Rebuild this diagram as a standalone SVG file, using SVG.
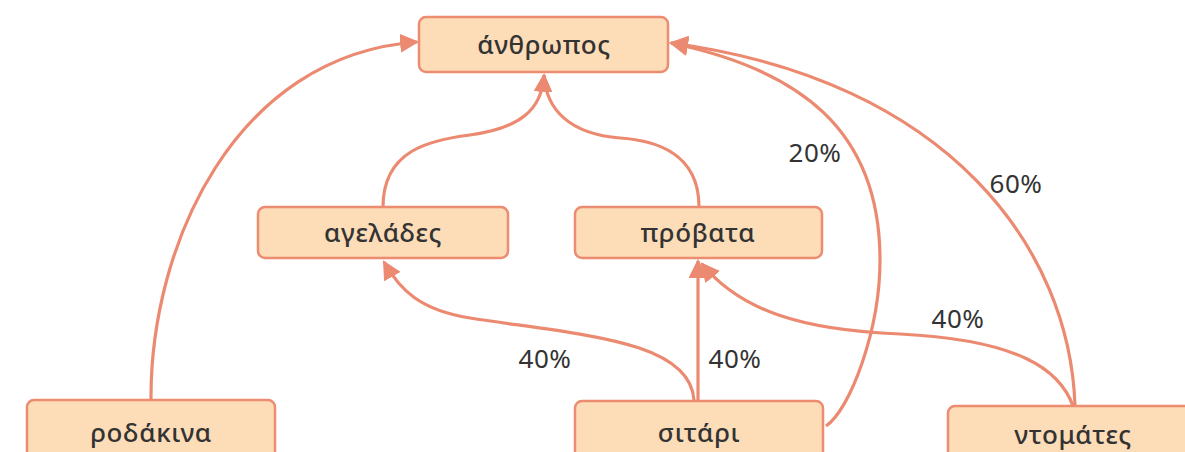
<svg xmlns="http://www.w3.org/2000/svg" width="1185" height="452" viewBox="0 0 1185 452">
<style>
.box{fill:#FDDDB8;stroke:#EC8C71;stroke-width:2.5}
.lbl{font-family:"Noto Sans","Liberation Sans",sans-serif;font-size:26px;font-weight:500;fill:#333;text-anchor:middle;letter-spacing:0.6px}
.pct{font-family:"Noto Sans","Liberation Sans",sans-serif;font-size:26px;fill:#333;text-anchor:middle;letter-spacing:0.5px}
.c{fill:none;stroke:#EB8A70;stroke-width:3.2}
</style>
<defs>
<marker id="ah" viewBox="0 0 18 18" refX="16" refY="9" markerWidth="19" markerHeight="19" markerUnits="userSpaceOnUse" orient="auto">
<path d="M0,0 L18,9 L0,18 Z" fill="#EB8A70"/>
</marker>
</defs>
<rect width="1185" height="452" fill="#fff"/>
<g id="connectors">
<path class="c" d="M151,400 C150,245 235,55 417,42" marker-end="url(#ah)"/>
<path class="c" d="M383,207 C383,150 430,140 470,135 C520,128 542,110 544,75" marker-end="url(#ah)"/>
<path class="c" d="M699,207 C699,150 650,140 620,138 C570,134 546,110 544,75"/>
<path class="c" d="M694,400 C690,340 580,335 470,318 C420,310 400,290 384,262" marker-end="url(#ah)"/>
<path class="c" d="M698,400 L698,261" marker-end="url(#ah)"/>
<path class="c" d="M1073,406 C1060,370 1020,340 900,334 C800,330 740,310 702,264" marker-end="url(#ah)"/>
<path class="c" d="M1075,406 C1070,250 950,80 671,43" marker-end="url(#ah)"/>
<path class="c" d="M826,426 C850,410 880,330 880,260 C880,130 800,70 671,43" marker-end="url(#ah)"/>
</g>
<g id="labels">
<text class="pct" x="815" y="162">20%</text>
<text class="pct" x="1016" y="193">60%</text>
<text class="pct" x="958" y="328">40%</text>
<text class="pct" x="545" y="368">40%</text>
<text class="pct" x="735" y="368">40%</text>
</g>
<g id="n-anthropos"><rect class="box" x="419" y="17" width="249" height="55" rx="7"/><text class="lbl" x="544" y="54">άνθρωπος</text></g>
<g id="n-ageladas"><rect class="box" x="258" y="207" width="250" height="51" rx="7"/><text class="lbl" x="383" y="242">αγελάδες</text></g>
<g id="n-provata"><rect class="box" x="575" y="207" width="247" height="51" rx="7"/><text class="lbl" x="698" y="242">πρόβατα</text></g>
<g id="n-rodakina"><rect class="box" x="27" y="400" width="248" height="60" rx="7"/><text class="lbl" x="151" y="442">ροδάκινα</text></g>
<g id="n-sitari"><rect class="box" x="575" y="401" width="248" height="60" rx="7"/><text class="lbl" x="699" y="442">σιτάρι</text></g>
<g id="n-ntomates"><rect class="box" x="948" y="406" width="250" height="60" rx="7"/><text class="lbl" x="1073" y="444">ντομάτες</text></g>
</svg>
